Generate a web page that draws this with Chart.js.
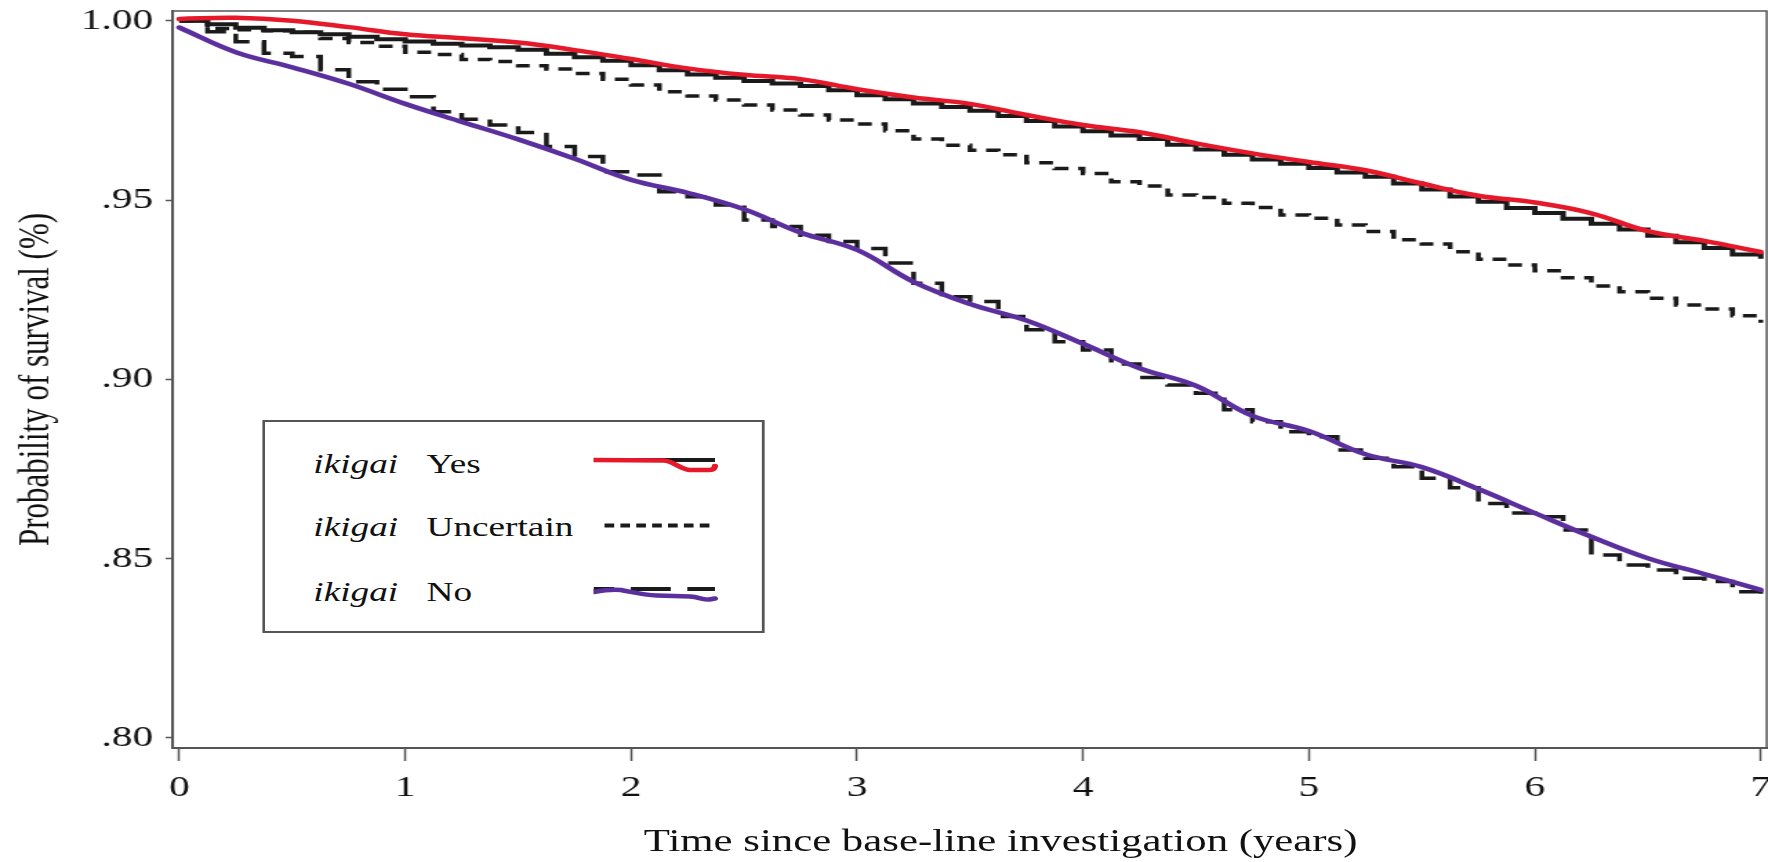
<!DOCTYPE html>
<html>
<head>
<meta charset="utf-8">
<title>ikigai survival</title>
<script src="https://cdn.jsdelivr.net/npm/chart.js@4.4.1/dist/chart.umd.min.js"></script>
<style>
  html, body { margin: 0; padding: 0; background: #fff; overflow: hidden; }
  /* the original figure is stretched sideways, so the whole stage is too */
  #stage { position: absolute; left: 0; top: 0; width: 1281px; height: 862px; transform: scaleX(1.3802); transform-origin: 0 0; }
  #chart { position: absolute; left: 0; top: 0; }
  #legend { position: absolute; left: 190px; top: 420px; width: 364px; height: 213px; box-sizing: border-box;
    border: 2px solid #555; background: #fff; font-family: "Liberation Serif", "Times New Roman", serif;
    font-size: 27px; color: #111; }
  .row { position: absolute; left: 0; width: 100%; height: 30px; line-height: 30px; }
  .row i { position: absolute; left: 35px; }
  .row span { position: absolute; left: 117px; }
  .row svg { position: absolute; left: 238px; top: 0; }
  #xtitle { position: absolute; left: 725px; top: 824px; transform: translateX(-50%); white-space: nowrap;
    font-family: "Liberation Serif", "Times New Roman", serif; font-size: 31px; line-height: 34px; color: #111; }
</style>
</head>
<body>
<div id="stage">
  <canvas id="chart" width="1281" height="862"></canvas>
  <div id="legend">
    <div class="row" style="top:27px"><i>ikigai</i><span>Yes</span>
      <svg width="92" height="30" viewBox="0 0 92 30">
        <path d="M8,11 L88,11" stroke="#1a1a1a" stroke-width="4" fill="none"/>
        <path d="M0,11 L51,11.5 C58,12 62,20 70,21 L84,21 C87,21 88,19 88,17" stroke="#e6192b" stroke-width="4.5" fill="none" stroke-linecap="round"/>
      </svg>
    </div>
    <div class="row" style="top:89.5px"><i>ikigai</i><span>Uncertain</span>
      <svg width="92" height="30" viewBox="0 0 92 30">
        <path d="M8,13.5 L88,13.5" stroke="#1a1a1a" stroke-width="4" stroke-dasharray="7 4.5" fill="none"/>
      </svg>
    </div>
    <div class="row" style="top:154.5px"><i>ikigai</i><span>No</span>
      <svg width="92" height="30" viewBox="0 0 92 30">
        <path d="M0,12 L88,12" stroke="#1a1a1a" stroke-width="4" stroke-dasharray="29 12" stroke-dashoffset="14" fill="none"/>
        <path d="M0,15 C8,13 14,12 20,13 C28,15 36,18 46,18.5 L70,19.5 C76,20 80,23 84,22.5 L88,21.5" stroke="#5b2f9e" stroke-width="4.5" fill="none" stroke-linecap="round"/>
      </svg>
    </div>
  </div>
  <div id="xtitle">Time since base-line investigation (years)</div>
</div>

<script>
    // tick values and labels
    const xTicks = [0, 1, 2, 3, 4, 5, 6, 7];
    const xTickLabels = ['0', '1', '2', '3', '4', '5', '6', '7'];
    const yTicks = [0.80, 0.85, 0.90, 0.95, 1.00];
    const yTickLabels = ['.80', '.85', '.90', '.95', '1.00'];

    // time grid for the smooth coloured overlays (years)
    const years = [0, 0.25, 0.5, 0.75, 1, 1.25, 1.5, 1.75, 2, 2.25, 2.5, 2.75, 3, 3.25, 3.5,
        3.75, 4, 4.25, 4.5, 4.75, 5, 5.25, 5.5, 5.75, 6, 6.25, 6.5, 6.75, 7];

    // red line (ikigai Yes)
    const yesSmooth = [1.0005, 1.0008, 1.0000, 0.9982, 0.9962, 0.9951, 0.9939, 0.9918, 0.9893, 0.9867,
        0.9849, 0.9837, 0.9809, 0.9786, 0.9768, 0.9737, 0.9709, 0.9689, 0.9658, 0.9630,
        0.9606, 0.9583, 0.9546, 0.9512, 0.9493, 0.9463, 0.9413, 0.9386, 0.9355];

    // purple line (ikigai No)
    const noSmooth = [0.9981, 0.9912, 0.9870, 0.9824, 0.9768, 0.9718, 0.9669, 0.9615, 0.9556, 0.9520,
        0.9474, 0.9409, 0.9361, 0.9272, 0.9210, 0.9164, 0.9099, 0.9031, 0.8982, 0.8898,
        0.8856, 0.8791, 0.8755, 0.8694, 0.8627, 0.8561, 0.8501, 0.8457, 0.8413];

    // time grid for the black step curves (years)
    const stepYears = [0, 0.125, 0.25, 0.375, 0.5, 0.625, 0.75, 0.875, 1, 1.125, 1.25, 1.375, 1.5, 1.625,
        1.75, 1.875, 2, 2.125, 2.25, 2.375, 2.5, 2.625, 2.75, 2.875, 3, 3.125, 3.25, 3.375, 3.5,
        3.625, 3.75, 3.875, 4, 4.125, 4.25, 4.375, 4.5, 4.625, 4.75, 4.875, 5, 5.125, 5.25,
        5.375, 5.5, 5.625, 5.75, 5.875, 6, 6.125, 6.25, 6.375, 6.5, 6.625, 6.75, 6.875, 7];

    // black solid (Yes), sits just under the red line
    const yesKM = [1.0000, 0.9990, 0.9980, 0.9973, 0.9968, 0.9962, 0.9955, 0.9948, 0.9942, 0.9936,
        0.9931, 0.9926, 0.9919, 0.9908, 0.9898, 0.9888, 0.9876, 0.9862, 0.9850, 0.9841,
        0.9832, 0.9825, 0.9818, 0.9806, 0.9792, 0.9781, 0.9769, 0.9759, 0.9749, 0.9734,
        0.9720, 0.9705, 0.9692, 0.9680, 0.9670, 0.9654, 0.9641, 0.9626, 0.9613, 0.9601,
        0.9589, 0.9577, 0.9565, 0.9546, 0.9529, 0.9510, 0.9495, 0.9478, 0.9464, 0.9448,
        0.9434, 0.9418, 0.9400, 0.9382, 0.9366, 0.9348, 0.9336];

    // black short dash (Uncertain)
    const uncertainKM = [1.0000, 0.9978, 0.9975, 0.9972, 0.9968, 0.9950, 0.9939, 0.9929, 0.9912, 0.9906,
        0.9892, 0.9886, 0.9874, 0.9865, 0.9853, 0.9837, 0.9821, 0.9802, 0.9790, 0.9779,
        0.9765, 0.9751, 0.9737, 0.9723, 0.9712, 0.9693, 0.9670, 0.9653, 0.9639, 0.9626,
        0.9604, 0.9588, 0.9574, 0.9551, 0.9539, 0.9514, 0.9507, 0.9491, 0.9479, 0.9458,
        0.9449, 0.9430, 0.9412, 0.9389, 0.9377, 0.9356, 0.9335, 0.9319, 0.9303, 0.9283,
        0.9260, 0.9244, 0.9226, 0.9207, 0.9196, 0.9177, 0.9158];

    // black long dash (No)
    const noKM = [1.0000, 0.9969, 0.9941, 0.9909, 0.9900, 0.9863, 0.9830, 0.9809, 0.9788, 0.9746,
        0.9725, 0.9709, 0.9688, 0.9649, 0.9621, 0.9579, 0.9570, 0.9523, 0.9509, 0.9486,
        0.9444, 0.9426, 0.9402, 0.9384, 0.9365, 0.9324, 0.9268, 0.9230, 0.9217, 0.9175,
        0.9138, 0.9105, 0.9082, 0.9043, 0.9005, 0.8984, 0.8961, 0.8915, 0.8882, 0.8854,
        0.8840, 0.8803, 0.8780, 0.8756, 0.8724, 0.8698, 0.8654, 0.8627, 0.8617, 0.8580,
        0.8510, 0.8482, 0.8468, 0.8445, 0.8436, 0.8408, 0.8396];

    const serif = "'Liberation Serif', 'Times New Roman', serif";
    const ink = '#111';
    const lineInk = '#1a1a1a';
    const axisGrey = '#555';

    const toPoints = (xs, ys) => xs.map((x, i) => ({ x: x, y: ys[i] }));

    // top and right sides of the frame
    const framePlugin = {
        id: 'frame',
        afterDraw(chart) {
            const { ctx, chartArea } = chart;
            ctx.save();
            ctx.strokeStyle = axisGrey;
            ctx.lineWidth = 1.5;
            ctx.beginPath();
            ctx.moveTo(chartArea.left, chartArea.top);
            ctx.lineTo(chartArea.right, chartArea.top);
            ctx.lineTo(chartArea.right, chartArea.bottom);
            ctx.stroke();
            ctx.restore();
        }
    };

    new Chart(document.getElementById('chart'), {
        type: 'line',
        data: {
            datasets: [
                {
                    data: toPoints(years, yesSmooth),
                    borderColor: '#e6192b',
                    borderWidth: 4.5,
                    tension: 0.4,
                    borderCapStyle: 'round',
                    borderJoinStyle: 'round',
                    order: 0
                },
                {
                    data: toPoints(years, noSmooth),
                    borderColor: '#5b2f9e',
                    borderWidth: 4.5,
                    tension: 0.4,
                    borderCapStyle: 'round',
                    borderJoinStyle: 'round',
                    order: 0
                },
                {
                    data: toPoints(stepYears, yesKM),
                    borderColor: lineInk,
                    borderWidth: 4,
                    stepped: true,
                    order: 1
                },
                {
                    data: toPoints(stepYears, uncertainKM),
                    borderColor: lineInk,
                    borderWidth: 3.5,
                    borderDash: [10, 7],
                    stepped: true,
                    order: 1
                },
                {
                    data: toPoints(stepYears, noKM),
                    borderColor: lineInk,
                    borderWidth: 3.5,
                    borderDash: [18, 9],
                    stepped: true,
                    order: 1
                }
            ]
        },
        options: {
            responsive: false,
            animation: false,
            devicePixelRatio: 1,
            layout: { padding: { top: 11, right: 1, left: 0, bottom: 0 } },
            elements: { point: { radius: 0 } },
            plugins: {
                legend: { display: false },
                tooltip: { enabled: false }
            },
            scales: {
                x: {
                    type: 'linear',
                    min: -0.03,
                    max: 7.026,
                    afterBuildTicks: (s) => { s.ticks = xTicks.map(v => ({ value: v })); },
                    afterFit: (s) => { s.height = 114; s.paddingLeft = 0; s.paddingRight = 0; },
                    ticks: {
                        font: { family: serif, size: 30 },
                        color: ink,
                        padding: 9,
                        maxRotation: 0,
                        autoSkip: false,
                        callback: (v, i) => xTickLabels[i]
                    },
                    grid: { drawOnChartArea: false, tickLength: 13, tickWidth: 1.5, tickColor: axisGrey },
                    border: { color: axisGrey, width: 2 }
                },
                y: {
                    type: 'linear',
                    min: 0.7972,
                    max: 1.0027,
                    afterBuildTicks: (s) => { s.ticks = yTicks.map(v => ({ value: v })); },
                    afterFit: (s) => { s.width = 125; s.paddingTop = 0; s.paddingBottom = 0; },
                    ticks: {
                        font: { family: serif, size: 30 },
                        color: ink,
                        padding: 9,
                        callback: (v, i) => yTickLabels[i]
                    },
                    grid: { drawOnChartArea: false, tickLength: 5, tickWidth: 1.5, tickColor: axisGrey },
                    border: { color: axisGrey, width: 2 },
                    title: {
                        display: true,
                        text: 'Probability of survival (%)',
                        font: { family: serif, size: 31 },
                        color: ink,
                        padding: { top: 8, bottom: 0 }
                    }
                }
            }
        },
        plugins: [framePlugin]
    });
</script>
</body>
</html>
